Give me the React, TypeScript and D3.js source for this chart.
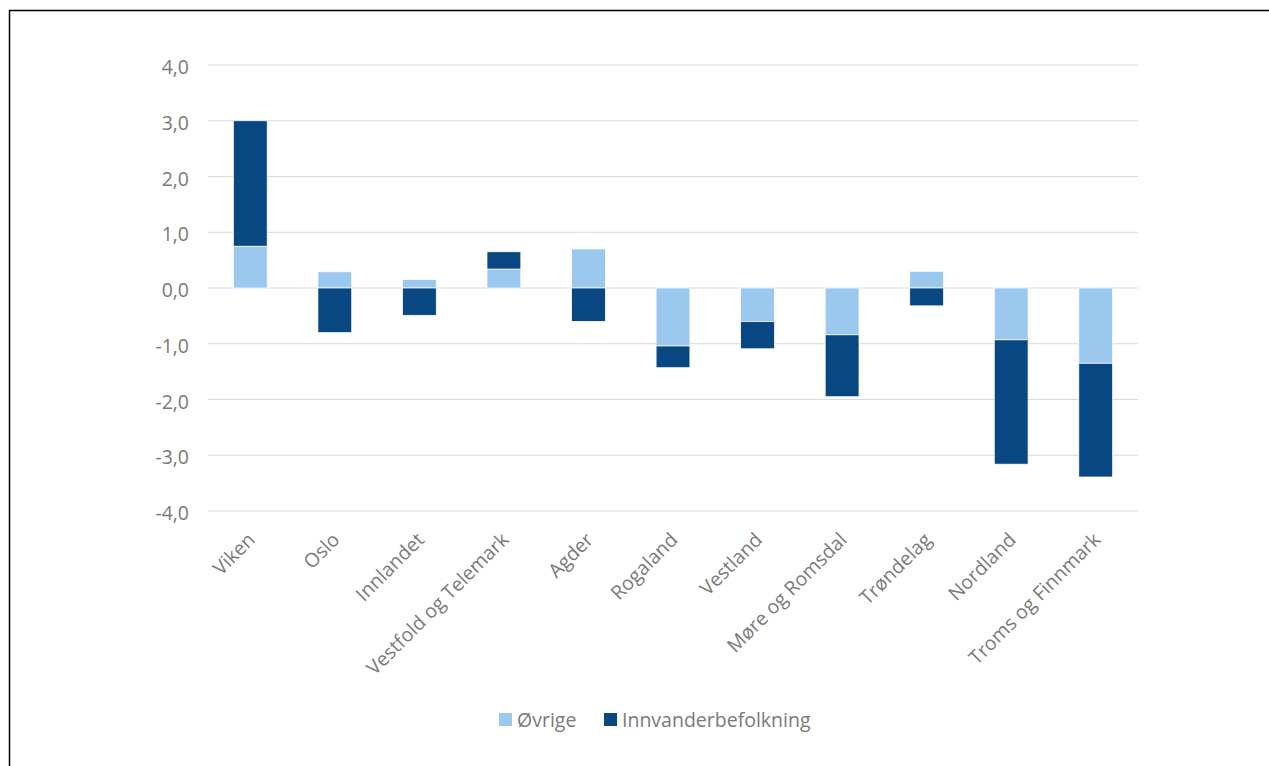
import React from "react";
import * as d3 from "d3";

const categories = ["Viken", "Oslo", "Innlandet", "Vestfold og Telemark", "Agder", "Rogaland", "Vestland", "Møre og Romsdal", "Trøndelag", "Nordland", "Troms og Finnmark"];
const ovrige = [0.75, 0.29, 0.15, 0.34, 0.70, -1.04, -0.60, -0.84, 0.30, -0.93, -1.35];
const innvandrer = [2.25, -0.80, -0.49, 0.31, -0.60, -0.39, -0.49, -1.11, -0.32, -2.23, -2.04];
const seriesNames = ["Øvrige", "Innvanderbefolkning"];
const seriesColors = ["#9AC8EE", "#084781"];
const yTicks = [-4, -3, -2, -1, 0, 1, 2, 3, 4];

export default function App() {
  const W = 1269, H = 766;
  const x0 = 208, x1 = 1138;
  const y = d3.scaleLinear().domain([-4, 4]).range([511, 65]);
  const x = d3.scaleBand().domain(categories).range([x0, x1]).paddingInner(0.6).paddingOuter(0.3);
  const rows = categories.map((c, i) => ({ cat: c, s0: ovrige[i], s1: innvandrer[i] }));
  const stack = d3.stack<any>().keys(["s0", "s1"]).offset(d3.stackOffsetDiverging);
  const layers = stack(rows);
  const fmt = (v: number) => v.toFixed(1).replace(".", ",");
  const font = "'Open Sans', sans-serif";
  const fs = 19.5;
  const textColor = "#7A7A7A";
  return (
    <svg width={W} height={H} style={{ position: "absolute", left: 0, top: 0 }}>
      <rect x={0} y={0} width={W} height={H} fill="#fff" />
      <rect x={9.5} y={10.5} width={W + 20} height={H + 20} fill="none" stroke="#000" strokeWidth={1.5} />
      {yTicks.map((t) => (
        <g key={t}>
          <line x1={x0} x2={x1} y1={y(t)} y2={y(t)} stroke="#D9D9D9" strokeWidth={1.2} />
          <text x={189} y={y(t) + 9} textAnchor="end" fontFamily={font} fontSize={fs} fill={textColor}>{fmt(t)}</text>
        </g>
      ))}
      {layers.map((layer, li) => (
        <g key={li}>
          {layer.map((d: any, i: number) => {
            const top = y(Math.max(d[0], d[1]));
            const bot = y(Math.min(d[0], d[1]));
            return (
              <rect key={i} x={x(categories[i])!} y={top} width={x.bandwidth()} height={Math.max(0, bot - top)}
                fill={seriesColors[li]} stroke="#fff" strokeWidth={0.75} />
            );
          })}
        </g>
      ))}
      {categories.map((c) => {
        const cx = x(c)! + x.bandwidth() / 2;
        return (
          <text key={c} transform={`translate(${cx + 6},${541}) rotate(-45)`} textAnchor="end" fontFamily={font} fontSize={fs} fill={textColor}>{c}</text>
        );
      })}
      <g>
        <rect x={499} y={713} width={13} height={13} fill={seriesColors[0]} />
        <text x={517} y={727} fontFamily={font} fontSize={fs} fill={textColor}>{seriesNames[0]}</text>
        <rect x={604} y={713} width={13} height={13} fill={seriesColors[1]} />
        <text x={622} y={727} fontFamily={font} fontSize={fs} fill={textColor}>{seriesNames[1]}</text>
      </g>
    </svg>
  );
}
